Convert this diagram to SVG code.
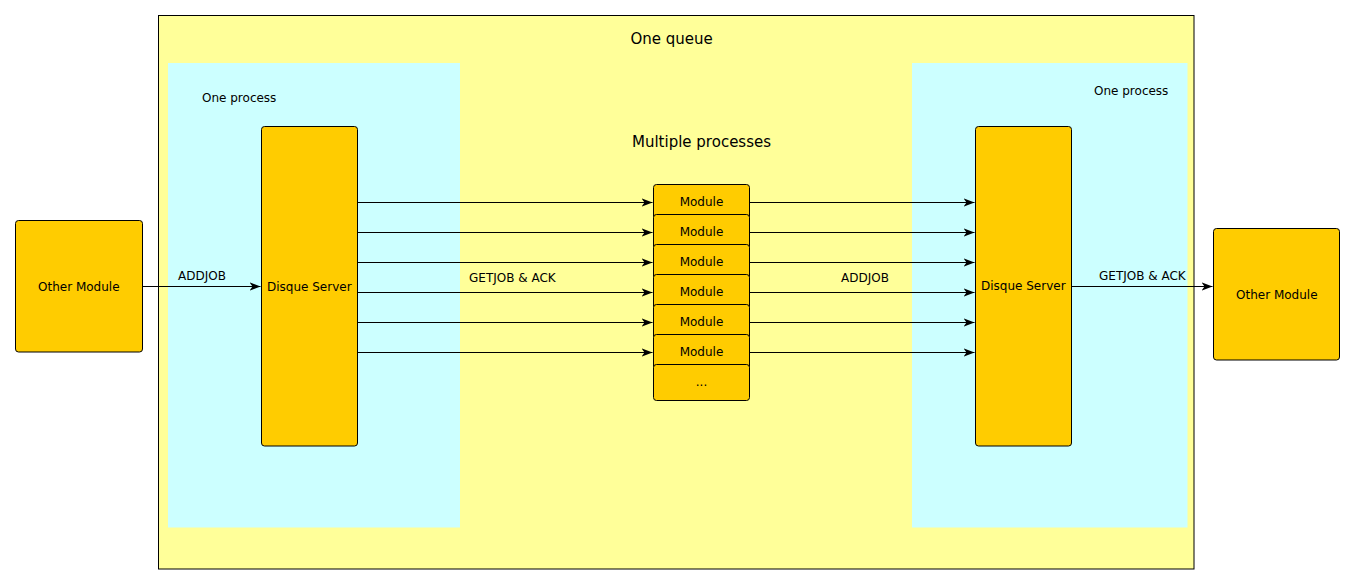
<svg xmlns="http://www.w3.org/2000/svg" width="1355" height="585" viewBox="0 0 1355 585">
<style>
text{font-family:"DejaVu Sans","Liberation Sans",sans-serif;font-size:12px;fill:#000}
.big{font-size:15px}
.node{fill:#ffcc00;stroke:#000;stroke-width:1}
.edge{stroke:#000;stroke-width:1;fill:none}
</style>
<defs>
<marker id="arr" viewBox="0 0 12 10" refX="11" refY="5" markerWidth="12" markerHeight="10" markerUnits="userSpaceOnUse" orient="auto">
<path d="M0,0.8 L11,5 L0,9.2 L3,5 Z" fill="#000"/>
</marker>
</defs>
<rect width="1355" height="585" fill="#fff"/>
<g id="queue">
<rect x="158.5" y="15.5" width="1035.5" height="553.5" fill="#ffff99" stroke="#000" stroke-width="1"/>
<text class="big" x="630.5" y="43.5">One queue</text>
</g>
<g id="process-left">
<rect x="168" y="63" width="292" height="464.5" fill="#ccffff"/>
<text x="202" y="101.5">One process</text>
</g>
<g id="process-right">
<rect x="912" y="63" width="275.5" height="464.5" fill="#ccffff"/>
<text x="1094" y="95">One process</text>
</g>
<text class="big" x="632" y="146.5">Multiple processes</text>
<g id="other-left">
<rect class="node" x="15.5" y="220.5" width="127" height="131.5" rx="3"/>
<text x="38" y="291">Other Module</text>
</g>
<g id="server-left">
<rect class="node" x="261.5" y="126.5" width="96" height="319.5" rx="3"/>
<text x="267" y="291">Disque Server</text>
</g>
<g id="server-right">
<rect class="node" x="975.5" y="126.5" width="96" height="319.5" rx="3"/>
<text x="981" y="290">Disque Server</text>
</g>
<g id="other-right">
<rect class="node" x="1213.5" y="228.5" width="126" height="131.5" rx="3"/>
<text x="1236" y="299">Other Module</text>
</g>
<g id="modules">
<g id="module-1"><rect class="node" x="653.5" y="184.5" width="96" height="36" rx="3"/><text x="701.5" y="206" text-anchor="middle">Module</text></g>
<g id="module-2"><rect class="node" x="653.5" y="214.5" width="96" height="36" rx="3"/><text x="701.5" y="236" text-anchor="middle">Module</text></g>
<g id="module-3"><rect class="node" x="653.5" y="244.5" width="96" height="36" rx="3"/><text x="701.5" y="266" text-anchor="middle">Module</text></g>
<g id="module-4"><rect class="node" x="653.5" y="274.5" width="96" height="36" rx="3"/><text x="701.5" y="296" text-anchor="middle">Module</text></g>
<g id="module-5"><rect class="node" x="653.5" y="304.5" width="96" height="36" rx="3"/><text x="701.5" y="326" text-anchor="middle">Module</text></g>
<g id="module-6"><rect class="node" x="653.5" y="334.5" width="96" height="36" rx="3"/><text x="701.5" y="356" text-anchor="middle">Module</text></g>
<g id="module-more"><rect class="node" x="653.5" y="364.5" width="96" height="36" rx="3"/><text x="701.5" y="386" text-anchor="middle">...</text></g>
</g>
<g id="connectors">
<path class="edge" d="M142.5,286.5 H260.5" marker-end="url(#arr)"/>
<path class="edge" d="M357.5,202.5 H652.5" marker-end="url(#arr)"/>
<path class="edge" d="M357.5,232.5 H652.5" marker-end="url(#arr)"/>
<path class="edge" d="M357.5,262.5 H652.5" marker-end="url(#arr)"/>
<path class="edge" d="M357.5,292.5 H652.5" marker-end="url(#arr)"/>
<path class="edge" d="M357.5,322.5 H652.5" marker-end="url(#arr)"/>
<path class="edge" d="M357.5,352.5 H652.5" marker-end="url(#arr)"/>
<path class="edge" d="M749.5,202.5 H974.5" marker-end="url(#arr)"/>
<path class="edge" d="M749.5,232.5 H974.5" marker-end="url(#arr)"/>
<path class="edge" d="M749.5,262.5 H974.5" marker-end="url(#arr)"/>
<path class="edge" d="M749.5,292.5 H974.5" marker-end="url(#arr)"/>
<path class="edge" d="M749.5,322.5 H974.5" marker-end="url(#arr)"/>
<path class="edge" d="M749.5,352.5 H974.5" marker-end="url(#arr)"/>
<path class="edge" d="M1071.5,286.5 H1212.5" marker-end="url(#arr)"/>
<text x="178" y="280">ADDJOB</text>
<text x="469" y="282">GETJOB &amp; ACK</text>
<text x="841" y="282">ADDJOB</text>
<text x="1099" y="279.5">GETJOB &amp; ACK</text>
</g>
</svg>
